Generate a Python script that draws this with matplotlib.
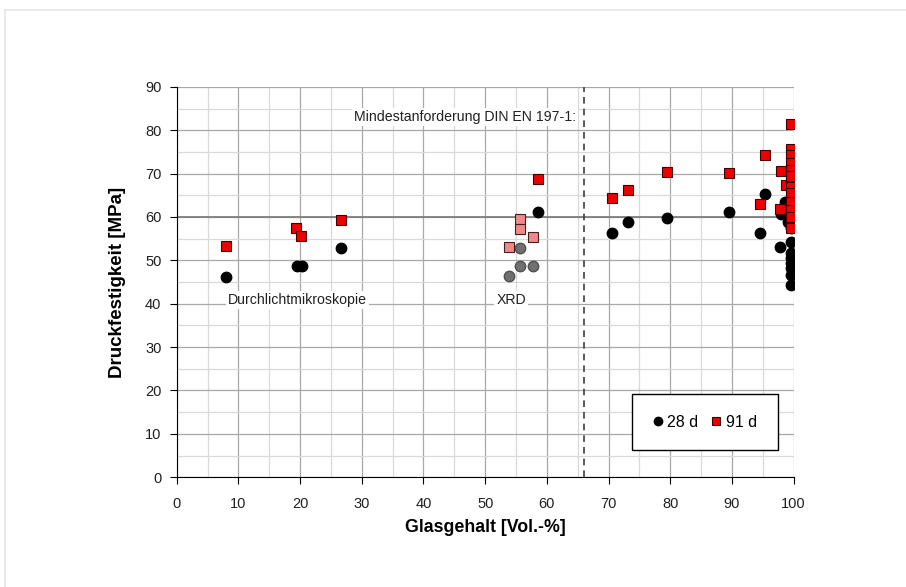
import matplotlib
matplotlib.use("Agg")
import matplotlib.pyplot as plt
from matplotlib.lines import Line2D

plt.rcParams['font.family'] = ['Liberation Sans', 'DejaVu Sans']

# Durchlichtmikroskopie
dl_glas = [8.0, 19.5, 20.3, 26.6]
dl_28 = [46.2, 48.8, 48.6, 52.8]
dl_glas91 = [8.0, 19.4, 20.2, 26.6]
dl_91 = [53.2, 57.4, 55.6, 59.4]

# XRD (hell = Einzelwerte)
xrd_glas = [53.8, 55.7, 55.7, 57.7]
xrd_28 = [46.4, 52.9, 48.8, 48.8]
xrd_glas91 = [53.8, 55.7, 55.7, 57.7]
xrd_91 = [53.1, 59.5, 57.3, 55.5]
xrd_mid_glas = [58.6]
xrd_mid_28 = [61.2]
xrd_mid_91 = [68.7]

# hohe Glasgehalte
hi_glas28 = [70.6, 73.2, 79.5, 89.5, 95.3, 94.6, 97.8, 98.6, 98.0, 99.1, 99.6,
             99.6, 99.6, 99.6, 99.6, 99.6, 99.6, 99.6]
hi_28 = [56.4, 58.9, 59.8, 61.2, 65.2, 56.2, 53.0, 63.5, 60.8, 58.9, 57.5,
         54.3, 51.6, 50.5, 49.3, 48.2, 46.6, 44.3]
hi_glas91 = [70.6, 73.2, 79.5, 89.5, 95.3, 98.0, 98.8, 94.6, 97.8, 99.6,
             99.5, 99.5, 99.6, 99.6, 99.6, 99.6, 99.6, 99.6, 99.6, 99.6, 99.6, 99.6]
hi_91 = [64.3, 66.2, 70.4, 70.2, 74.3, 70.5, 67.4, 62.9, 61.8, 81.5,
         75.6, 74.3, 72.4, 70.8, 68.9, 67.0, 65.5, 63.5, 61.6, 60.1, 57.4, 69.5]

grenze_glas = 66
anforderung = 60

fig = plt.figure(figsize=(9.06, 5.87), dpi=100)
# heller Rahmen oben/links
fig.add_artist(Line2D([0.005, 1.0], [0.983, 0.983], transform=fig.transFigure,
                      color='#e6e6e6', linewidth=1.2))
fig.add_artist(Line2D([0.005, 0.005], [0.0, 0.983], transform=fig.transFigure,
                      color='#e6e6e6', linewidth=1.2))
ax = fig.add_axes([0.195, 0.187, 0.681, 0.665])

ax.set_xlim(0, 100)
ax.set_ylim(0, 90)
ax.set_xticks(range(0, 101, 10))
ax.set_yticks(range(0, 91, 10))
ax.set_xticks(range(5, 100, 10), minor=True)
ax.set_yticks(range(5, 90, 10), minor=True)
ax.grid(which='major', color='#a8a8a8', linewidth=0.9)
ax.grid(which='minor', color='#d9d9d9', linewidth=0.9)
ax.set_axisbelow(True)
ax.tick_params(which='minor', length=0)
ax.tick_params(which='major', length=5, direction='out', color='black',
               labelsize=10.5, labelcolor='#202020')
ax.tick_params(axis='x', pad=9)
ax.tick_params(axis='y', pad=6)
for s in ['top', 'right']:
    ax.spines[s].set_visible(False)
for s in ['left', 'bottom']:
    ax.spines[s].set_color('black')

ax.axhline(anforderung, color='#7f7f7f', linewidth=1.3, zorder=1.5)
ax.axvline(grenze_glas, color='#404040', linewidth=1.2, linestyle=(0, (4, 3)), zorder=1.5)

ms = 7.5
ax.plot(xrd_glas, xrd_28, 'o', color='#707070', mec='#505050', ms=ms, zorder=3)
ax.plot(xrd_glas91, xrd_91, 's', color='#f08a8a', mec='#402020', ms=ms, mew=0.8, zorder=3)
ax.plot(dl_glas + xrd_mid_glas + hi_glas28, dl_28 + xrd_mid_28 + hi_28, 'o',
        color='black', ms=ms, zorder=3, label='28 d')
ax.plot(dl_glas91 + xrd_mid_glas + hi_glas91, dl_91 + xrd_mid_91 + hi_91, 's',
        color='#ee0000', mec='#400000', ms=ms, mew=0.8, zorder=4, label='91 d')

box = dict(facecolor='white', edgecolor='none', pad=1.5)
ax.text(64.7, 83, 'Mindestanforderung DIN EN 197-1:', ha='right', va='center',
        fontsize=10.2, color='#202020', bbox=box)
ax.text(8.3, 40.8, 'Durchlichtmikroskopie', ha='left', va='center',
        fontsize=10.2, color='#202020', bbox=box)
ax.text(54.2, 40.8, 'XRD', ha='center', va='center',
        fontsize=10.2, color='#202020', bbox=box)

ax.set_xlabel('Glasgehalt [Vol.-%]', fontsize=12.8, fontweight='bold', labelpad=6)
ax.set_ylabel('Druckfestigkeit [MPa]', fontsize=13.5, fontweight='bold', labelpad=14)

leg = ax.legend(loc='lower right', bbox_to_anchor=(0.974, 0.069), borderaxespad=0,
                ncol=2, fontsize=11.5, markerscale=0.8, handlelength=0.6,
                handletextpad=0.3, columnspacing=0.8, borderpad=1.3,
                fancybox=False, framealpha=1, edgecolor='black')
leg.get_frame().set_linewidth(1)

fig.savefig('out.png', dpi=100)
